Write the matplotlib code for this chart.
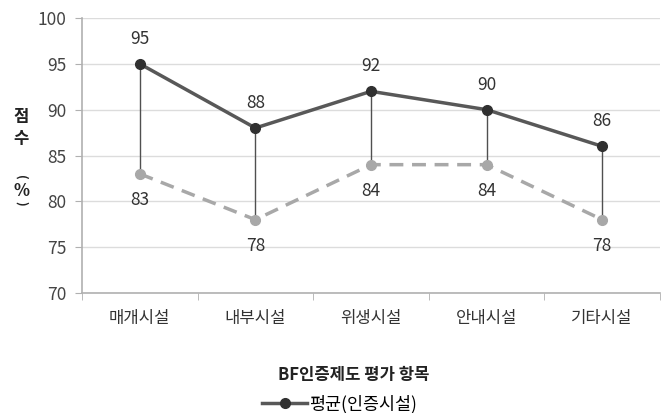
import matplotlib
matplotlib.use("Agg")
import matplotlib.pyplot as plt
from matplotlib.lines import Line2D

plt.rcParams['font.family'] = ['Noto Sans CJK KR', 'DejaVu Sans']

categories = ['매개시설', '내부시설', '위생시설', '안내시설', '기타시설']
avg_certified = [95, 88, 92, 90, 86]
avg_other = [83, 78, 84, 84, 78]
y_ticks = [70, 75, 80, 85, 90, 95, 100]

fig = plt.figure(figsize=(6.7, 4.13), dpi=100)
ax = fig.add_axes([82/670, 1-293/413, 578/670, 275/413])

x = list(range(len(categories)))

# high-low lines
ax.vlines(x, avg_other, avg_certified, colors='#505050', linewidth=1.0, zorder=2)

ax.plot(x, avg_other, color='#a8a8a8', linestyle=(0, (4, 2.5)), linewidth=2.5,
        marker='o', markersize=7, markerfacecolor='#a8a8a8', markeredgecolor='#a8a8a8', zorder=3)
ax.plot(x, avg_certified, color='#585858', linestyle='-', linewidth=2.5,
        marker='o', markersize=7, markerfacecolor='#303030', markeredgecolor='#303030', zorder=4,
        label='평균(인증시설)')

for xi, v in zip(x, avg_certified):
    ax.annotate(str(v), (xi, v), xytext=(0, 18), textcoords='offset points',
                ha='center', va='center', fontsize=12.5, color='#333333')
for xi, v in zip(x, avg_other):
    ax.annotate(str(v), (xi, v), xytext=(0, -19), textcoords='offset points',
                ha='center', va='center', fontsize=12.5, color='#333333')

ax.set_xlim(-0.5, len(categories) - 0.5)
ax.set_ylim(70, 100)
ax.set_yticks(y_ticks)
ax.set_yticklabels([str(t) for t in y_ticks], fontsize=12.5, color='#444444')
ax.set_xticks(x)
ax.set_xticklabels(categories, fontsize=12, color='#333333')
ax.tick_params(axis='x', length=0, pad=12)
ax.set_xticks([i + 0.5 for i in range(-1, len(categories))], minor=True)
ax.tick_params(axis='x', which='minor', length=5, color='#b0b0b0', direction='out')
ax.tick_params(axis='y', length=5, color='#b0b0b0', direction='out', pad=6)

ax.grid(axis='y', color='#dcdcdc', linewidth=1.0)
ax.set_axisbelow(True)
for s in ['top', 'right']:
    ax.spines[s].set_visible(False)
for s in ['left', 'bottom']:
    ax.spines[s].set_color('#b0b0b0')
    ax.spines[s].set_linewidth(1.2)

# vertical stacked y label
lab = dict(fontweight='bold', ha='center', va='center', color='#222222')
fig.text(21/670, 1-117/413, '점', fontsize=12, **lab)
fig.text(21/670, 1-139/413, '수', fontsize=12, **lab)
fig.text(21/670, 1-177/413, '(', rotation=-90, fontsize=9, **lab)
fig.text(21/670, 1-191/413, '%', fontsize=12, **lab)
fig.text(21/670, 1-203/413, ')', rotation=-90, fontsize=9, **lab)

fig.text(354/670, 1-375/413, 'BF인증제도 평가 항목', fontsize=12, fontweight='bold',
         ha='center', va='center', color='#222222')

handle = Line2D([0], [0], color='#585858', linewidth=2.5, marker='o', markersize=7,
                markerfacecolor='#303030', markeredgecolor='#303030')
fig.legend([handle], ['평균(인증시설)'], loc='center left', bbox_to_anchor=(262/670, 1-404/413),
           frameon=False, fontsize=12.5, handlelength=2.6, handletextpad=0.1, borderpad=0, borderaxespad=0)

fig.savefig('out.png', dpi=100)
